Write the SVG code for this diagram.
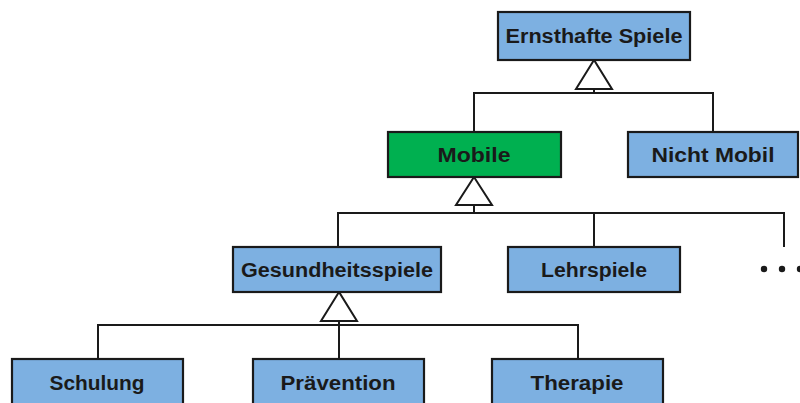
<svg xmlns="http://www.w3.org/2000/svg" width="800" height="403" viewBox="0 0 800 403">
<style>
.box{fill:#7DB0E1;stroke:#1a1a1a;stroke-width:2.2}
.green{fill:#00B050;stroke:#1a1a1a;stroke-width:2.2}
.lbl{font-family:"Liberation Sans",Arial,sans-serif;font-weight:bold;font-size:20px;fill:#1a1a1a;text-anchor:middle}
.ln{fill:none;stroke:#1a1a1a;stroke-width:2}
.tri{fill:#ffffff;stroke:#1a1a1a;stroke-width:2;stroke-linejoin:miter}
</style>
<rect width="800" height="403" fill="#ffffff"/>
<g id="connectors">
<path class="ln" d="M594 89 V93 M474 132 V93 H713 V132"/>
<polygon class="tri" points="594,60 576,89 612,89"/>
<path class="ln" d="M474 205 V213 M338 247 V213 H784 V247 M594 213 V247"/>
<polygon class="tri" points="474,177 456,205 492,205"/>
<path class="ln" d="M339 321 V359 M98 359 V325 H578 V359"/>
<polygon class="tri" points="339,292 321,321 357,321"/>
</g>
<g id="ernsthafte-spiele"><rect class="box" x="498" y="12" width="192" height="48"/><text class="lbl" x="594" y="43" textLength="177" lengthAdjust="spacingAndGlyphs">Ernsthafte Spiele</text></g>
<g id="mobile"><rect class="green" x="388" y="132" width="173" height="45"/><text class="lbl" x="474" y="162" textLength="73" lengthAdjust="spacingAndGlyphs">Mobile</text></g>
<g id="nicht-mobil"><rect class="box" x="628" y="132" width="170" height="45"/><text class="lbl" x="713" y="162" textLength="123" lengthAdjust="spacingAndGlyphs">Nicht Mobil</text></g>
<g id="gesundheitsspiele"><rect class="box" x="233" y="247" width="208" height="45"/><text class="lbl" x="337" y="277" textLength="192" lengthAdjust="spacingAndGlyphs">Gesundheitsspiele</text></g>
<g id="lehrspiele"><rect class="box" x="508" y="247" width="172" height="45"/><text class="lbl" x="594" y="277" textLength="106" lengthAdjust="spacingAndGlyphs">Lehrspiele</text></g>
<g id="more"><circle cx="764" cy="269" r="3.2" fill="#1a1a1a"/><circle cx="782" cy="269" r="3.2" fill="#1a1a1a"/><circle cx="800" cy="269" r="3.2" fill="#1a1a1a"/></g>
<g id="schulung"><rect class="box" x="12" y="359" width="171" height="50"/><text class="lbl" x="97" y="390" textLength="95" lengthAdjust="spacingAndGlyphs">Schulung</text></g>
<g id="praevention"><rect class="box" x="253" y="359" width="171" height="50"/><text class="lbl" x="338" y="390" textLength="115" lengthAdjust="spacingAndGlyphs">Prävention</text></g>
<g id="therapie"><rect class="box" x="492" y="359" width="171" height="50"/><text class="lbl" x="577" y="390" textLength="93" lengthAdjust="spacingAndGlyphs">Therapie</text></g>
</svg>
